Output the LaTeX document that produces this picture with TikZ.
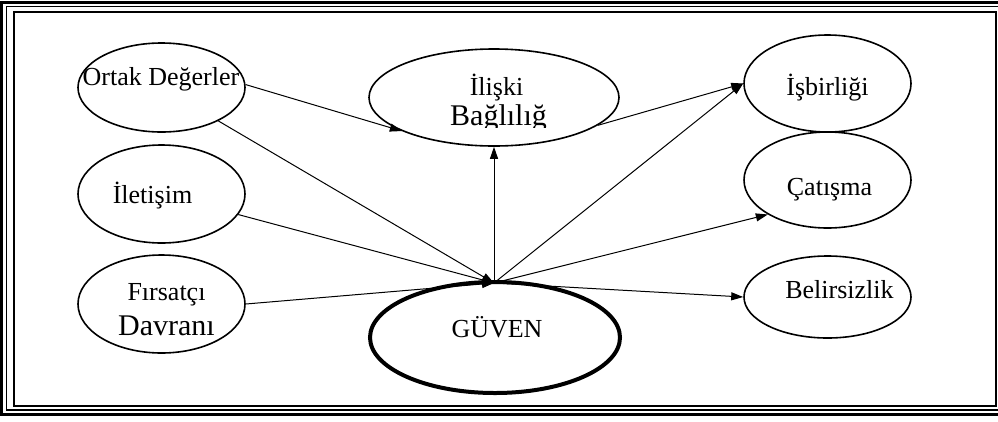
\documentclass[tikz,border=0pt]{standalone}
\usepackage{fontspec}
\setmainfont{Liberation Serif}
\usetikzlibrary{shapes.geometric,arrows.meta}
\begin{document}
\begin{tikzpicture}[x=1pt,y=-1pt,
  oval/.style={draw=black,ellipse,line width=1.6pt,inner sep=0pt},
  lbl/.style={anchor=base,inner sep=0pt,font=\fontsize{26}{30}\selectfont},
  biglbl/.style={anchor=base,inner sep=0pt,font=\fontsize{30}{34}\selectfont},
  conn/.style={line width=1pt,-{Triangle[length=12pt,width=8pt]}}
]
\useasboundingbox (0,0) rectangle (998,421);
% frame
\begin{scope}
\clip (0,0) rectangle (998,421);
\draw[line width=3pt] (1.5,2) rectangle (1010,414.5);
\draw[line width=1.3pt] (6.5,6.5) rectangle (1005,410);
\draw[line width=2pt] (13.8,11.5) rectangle (995.5,405.5);
\end{scope}
% ellipses
\node[oval,minimum width=167pt,minimum height=89pt] (ortak) at (161.5,87.5) {};
\node[oval,minimum width=167pt,minimum height=98pt] (iletisim) at (161.5,194) {};
\node[oval,minimum width=167pt,minimum height=98pt] (firsat) at (161.5,304) {};
\node[oval,minimum width=250pt,minimum height=97pt] (iliski) at (494,97.5) {};
\node[oval,minimum width=167pt,minimum height=97pt] (isbir) at (827.5,83.5) {};
\node[oval,minimum width=167pt,minimum height=96pt] (catisma) at (827.5,180) {};
\node[oval,minimum width=167pt,minimum height=82pt] (belir) at (827.5,297) {};
\node[oval,line width=4pt,minimum width=250pt,minimum height=111pt] (guven) at (495,337.5) {};
% labels
\node[lbl] (tortak) at (161,85) {Ortak Değerler};
\node[lbl] (tilet) at (152.5,203) {İletişim};
\node[lbl] (tfirsat) at (166.5,300) {Fırsatçı};
\node[biglbl] (tdavran) at (166.5,335) {Davranı};
\node[lbl] (tiliski) at (496.5,95) {İlişki};
\begin{scope}
\clip (380,100) rectangle (620,127.5);
\node[biglbl] (tbag) at (498.5,125) {Bağlılığ};
\end{scope}
\node[lbl] (tisbir) at (827.5,95) {İşbirliği};
\node[lbl] (tcat) at (829.5,195) {Çatışma};
\node[lbl] (tbelir) at (839.5,298) {Belirsizlik};
\node[lbl] (tguven) at (497,337) {GÜVEN};
% connectors
\coordinate (hub) at (494,283);
\draw[conn] (ortak.2) -- (iliski.200);
\draw[conn] (ortak) -- (hub);
\draw[conn] (iletisim) -- (hub);
\draw[conn] (firsat.east) -- (hub);
\draw[conn] (hub) -- (iliski.south);
\draw[conn] (hub) -- (isbir.west);
\draw[conn] (iliski.-15) -- (isbir.west);
\draw[conn] (hub) -- (catisma.210);
\draw[conn] (hub) -- (belir.west);
\end{tikzpicture}
\end{document}
